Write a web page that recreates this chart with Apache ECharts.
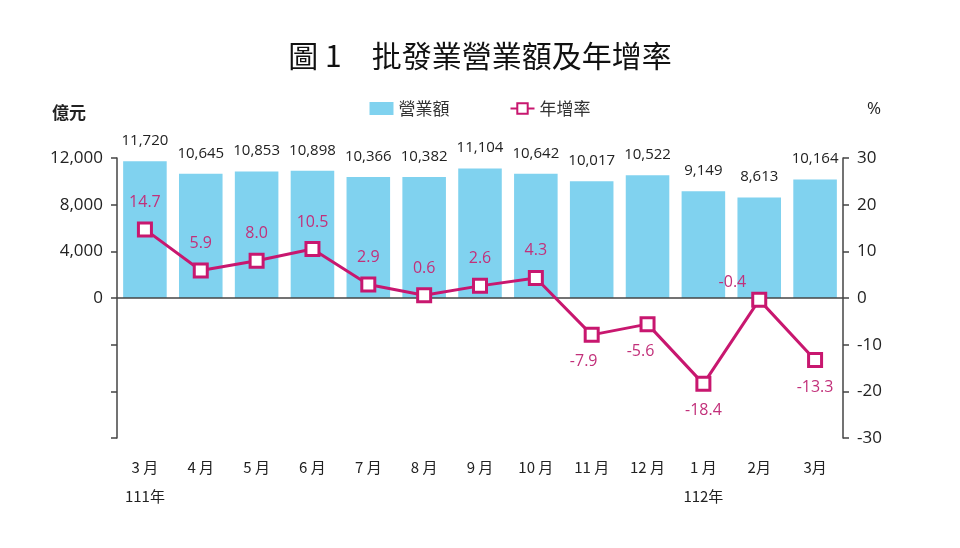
<!DOCTYPE html>
<html><head><meta charset="utf-8">
<script src="https://cdn.jsdelivr.net/npm/echarts@6/dist/echarts.min.js"></script>
<style>html,body{margin:0;padding:0;background:#fff}#c{width:960px;height:548px}</style>
</head><body><div id="c"></div>
<script>
const categories = ['3 月','4 月','5 月','6 月','7 月','8 月','9 月','10 月','11 月','12 月','1 月','2月','3月'];
const years = ['111年','','','','','','','','','','112年','',''];
const revenue = [11720,10645,10853,10898,10366,10382,11104,10642,10017,10522,9149,8613,10164];
const growth = [14.7,5.9,8.0,10.5,2.9,0.6,2.6,4.3,-7.9,-5.6,-18.4,-0.4,-13.3];
const growthLabelPos = ['top','top','top','top','top','top','top','top','bottom','bottom','bottom','left','bottom'];
const growthLabelShift = [[0,0],[0,0],[0,0],[0,0],[0,0],[0,0],[0,0],[0,0],[-8,0],[-7,0],[0,0],[6,-17],[0,0]];

const chart = echarts.init(document.getElementById('c'));
const fontMain = '"Noto Sans CJK TC","Noto Sans",sans-serif';
const lineColor = '#C8176F';
chart.setOption({
  animation:false,
  backgroundColor:'#fff',
  title:{text:'圖 1　批發業營業額及年增率',left:'center',top:36,
    textStyle:{fontFamily:'"Noto Sans CJK TC",serif',fontSize:30,fontWeight:'normal',color:'#111'}},
  legend:{top:95,left:'center',itemGap:60,
    textStyle:{fontFamily:fontMain,fontSize:17,color:'#333'},
    data:[{name:'營業額',icon:'rect',itemStyle:{color:'#80D2EF'}},{name:'年增率'}],
    itemWidth:24,itemHeight:13},
  grid:{left:117,right:117,top:158,bottom:110},
  xAxis:{type:'category',data:categories,
    axisLine:{show:false},axisTick:{show:false},
    axisLabel:{interval:0,margin:15,fontFamily:fontMain,fontSize:15,color:'#222',lineHeight:29,
      formatter:(v,i)=> years[i] ? v+'\n{y|'+years[i]+'}' : v,
      rich:{y:{fontFamily:fontMain,fontSize:15,color:'#222',lineHeight:29}}}},
  yAxis:[
    {type:'value',min:-12000,max:12000,interval:4000,
     axisLine:{show:true,lineStyle:{color:'#444',width:1.5}},
     axisTick:{show:true,length:6,lineStyle:{color:'#444',width:1.5}},
     splitLine:{show:false},
     axisLabel:{margin:14,fontFamily:'"Open Sans",sans-serif',fontSize:17,color:'#222',
       formatter:v=> v>=0 ? v.toLocaleString('en-US') : ''}},
    {type:'value',min:-30,max:30,interval:10,
     axisLine:{show:true,lineStyle:{color:'#444',width:1.5}},
     axisTick:{show:true,length:6,lineStyle:{color:'#444',width:1.5}},
     splitLine:{show:false},
     axisLabel:{margin:14,fontFamily:'"Open Sans",sans-serif',fontSize:17,color:'#222'}}
  ],
  graphic:[
    {type:'text',left:52,top:104,style:{text:'億元',font:'bold 17px "Noto Sans CJK TC"',fill:'#222'}},
    {type:'text',left:867,top:101,style:{text:'%',font:'17px "Open Sans"',fill:'#222'}}
  ],
  series:[
    {name:'營業額',type:'bar',data:revenue,yAxisIndex:0,barCategoryGap:'22%',
     itemStyle:{color:'#80D2EF'},
     label:{show:true,position:'top',distance:13,fontFamily:'"Open Sans",sans-serif',fontSize:15,color:'#222',
       formatter:p=>p.value.toLocaleString('en-US')},
     markLine:{silent:true,symbol:'none',label:{show:false},
       lineStyle:{color:'#444',width:1.5,type:'solid'},data:[{yAxis:0}]},
     z:2},
    {name:'年增率',type:'line',yAxisIndex:1,
     data:growth.map((v,i)=>({value:v,label:{position:growthLabelPos[i],offset:growthLabelShift[i]}})),
     symbol:'rect',symbolSize:13,
     lineStyle:{color:lineColor,width:3},
     itemStyle:{color:'#fff',borderColor:lineColor,borderWidth:3},
     label:{show:true,distance:11,fontFamily:'"Open Sans",sans-serif',fontSize:16,color:'#C2307A',
       formatter:p=>p.value.toFixed(1)},
     z:5}
  ]
});
</script></body></html>
